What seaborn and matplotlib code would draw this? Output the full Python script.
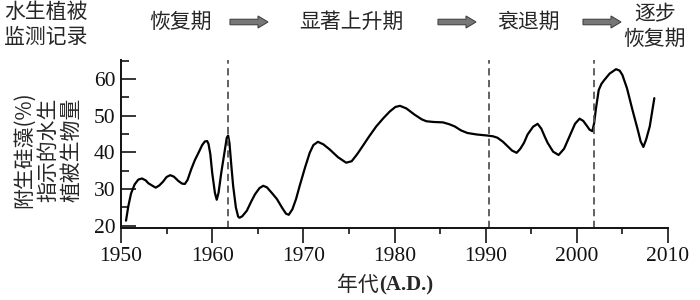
import matplotlib
matplotlib.use("Agg")
import matplotlib.pyplot as plt
from matplotlib.patches import FancyArrow
from matplotlib.ticker import MultipleLocator
import seaborn as sns
import pandas as pd

years = [1950.55, 1950.8, 1951.1, 1951.5, 1951.9, 1952.3, 1952.7, 1953.0, 1953.8, 1954.2,
         1954.6, 1955.0, 1955.4, 1955.8, 1956.3, 1956.7, 1957.0, 1957.3, 1957.7, 1958.1,
         1958.5, 1958.9, 1959.2, 1959.45, 1959.6, 1959.8, 1960.0, 1960.3, 1960.5, 1960.7,
         1961.0, 1961.4, 1961.6, 1961.75, 1961.9, 1962.1, 1962.3, 1962.6, 1962.85, 1963.0,
         1963.3, 1963.8, 1964.3, 1964.7, 1965.2, 1965.6, 1966.0, 1966.6, 1967.1, 1967.7,
         1968.1, 1968.4, 1968.8, 1969.2, 1969.6, 1970.2, 1970.7, 1971.1, 1971.6, 1972.2,
         1972.9, 1973.8, 1974.7, 1975.3, 1975.9, 1976.5, 1977.2, 1978.0, 1978.8, 1979.5,
         1980.1, 1980.6, 1981.3, 1982.2, 1983.0, 1983.5, 1984.3, 1985.3, 1986.0, 1986.6,
         1987.3, 1988.0, 1989.0, 1990.2, 1990.8, 1991.3, 1991.9, 1992.4, 1992.9, 1993.4,
         1993.8, 1994.2, 1994.6, 1995.2, 1995.7, 1996.1, 1996.5, 1996.8, 1997.4, 1998.0,
         1998.6, 1999.2, 1999.8, 2000.3, 2000.7, 2001.0, 2001.4, 2001.7, 2001.9, 2002.1,
         2002.4, 2002.7, 2003.0, 2003.6, 2004.3, 2004.7, 2005.0, 2005.5, 2006.1, 2006.7,
         2007.0, 2007.3, 2007.6, 2008.0, 2008.5]
values = [21.4, 25.3, 28.8, 31.3, 32.6, 32.9, 32.4, 31.6, 30.4, 31.0,
          32.0, 33.3, 33.8, 33.4, 32.2, 31.5, 31.4, 32.5, 35.4, 37.9,
          39.9, 42.0, 43.0, 43.1, 42.3, 39.5, 34.5, 29.0, 27.1, 29.0,
          34.5, 40.8, 44.0, 44.6, 42.5, 36.5, 30.9, 25.0, 22.5, 22.2,
          22.6, 24.1, 26.7, 28.6, 30.3, 30.9, 30.5, 28.8, 27.3, 24.8,
          23.3, 23.0, 24.5, 27.3, 30.9, 36.0, 39.9, 42.0, 42.9, 42.2,
          40.8, 38.7, 37.2, 37.6, 39.5, 41.7, 44.3, 47.1, 49.4, 51.2,
          52.4, 52.7, 52.0, 50.3, 49.0, 48.5, 48.3, 48.2, 47.7, 47.1,
          46.0, 45.3, 44.9, 44.6, 44.4, 44.0, 42.9, 41.7, 40.5, 39.9,
          41.0, 42.6, 44.9, 47.0, 47.8, 46.5, 44.2, 42.6, 40.2, 39.3,
          41.0, 44.4, 47.8, 49.2, 48.6, 47.6, 46.2, 45.8, 48.0, 52.0,
          57.0, 58.7, 59.7, 61.5, 62.7, 62.3, 61.1, 57.5, 51.6, 46.0,
          43.0, 41.5, 43.5, 47.1, 54.8]
stage_lines = [1961.7, 1990.4, 2001.9]
x_ticks = [1950, 1960, 1970, 1980, 1990, 2000, 2010]
y_ticks = [20, 30, 40, 50, 60]
stages = ["恢复期", "显著上升期", "衰退期", "逐步\n恢复期"]
record_label = "水生植被\n监测记录"
y_label = "附生硅藻(%)\n指示的水生\n植被生物量"
x_label_cjk = "年代"
x_label_latin = "(A.D.)"

df = pd.DataFrame({"year": years, "value": values})

sns.set_theme(style="ticks")
cjk = ["Noto Sans CJK SC", "DejaVu Sans"]

fig = plt.figure(figsize=(7, 3), dpi=100)
ax = fig.add_axes([121/700, 1 - 228/300, (668 - 121)/700, (228 - 60)/300])

sns.lineplot(data=df, x="year", y="value", ax=ax, color="black", lw=1.6,
             sort=False, estimator=None)
for xv in stage_lines:
    ax.axvline(xv, color="#555555", lw=1.3, ls=(0, (4, 2.5)))

ax.set_xlim(1950, 2010)
ax.set_ylim(19.4, 65.2)
ax.set_xticks(x_ticks)
ax.set_yticks(y_ticks)
ax.xaxis.set_minor_locator(MultipleLocator(5))
ax.yaxis.set_minor_locator(MultipleLocator(5))
ax.tick_params(axis="x", which="major", direction="out", length=11, width=1.3, pad=3)
ax.tick_params(axis="x", which="minor", direction="out", length=4, width=1.3)
ax.tick_params(axis="y", which="major", direction="in", length=11, width=1.3, pad=4)
ax.tick_params(axis="y", which="minor", direction="in", length=6, width=1.3)
for lab in ax.get_xticklabels() + ax.get_yticklabels():
    lab.set_fontfamily("Liberation Serif")
    lab.set_fontsize(15.5)
    lab.set_color("#111111")
sns.despine(ax=ax)
for s in ["left", "bottom"]:
    ax.spines[s].set_linewidth(1.4)
    ax.spines[s].set_color("#111111")
ax.set_xlabel("")
ax.set_ylabel("")

fig.text(379/700, 1 - 285/300, x_label_cjk, ha="right", va="center", fontsize=15,
         family=cjk)
fig.text(379/700, 1 - 285/300, x_label_latin, ha="left", va="center", fontsize=15,
         family="Liberation Serif", weight="bold")
fig.text(48/700, 1 - 150/300, y_label, ha="center", va="center", fontsize=15,
         family=cjk, rotation=90, linespacing=1.1, multialignment="center")
fig.text(4/700, 1 - 1/300, record_label, ha="left", va="top", fontsize=15,
         family=cjk, linespacing=1.15)

stage_pos = [(181, 22), (351, 22), (529, 22), (655, 27)]
for txt, (px, py) in zip(stages, stage_pos):
    fig.text(px/700, 1 - py/300, txt, ha="center", va="center", fontsize=15,
             family=cjk, linespacing=1.15)

for x0, x1 in [(230, 268), (438, 476), (583, 621)]:
    fig.add_artist(FancyArrow(x0/100, 3 - 22/100, (x1 - x0)/100, 0,
                              width=0.055, head_width=0.12, head_length=0.10,
                              length_includes_head=True, transform=fig.dpi_scale_trans,
                              facecolor="#777777", edgecolor="#444444", lw=0.8))

fig.savefig("out.png", dpi=100)
